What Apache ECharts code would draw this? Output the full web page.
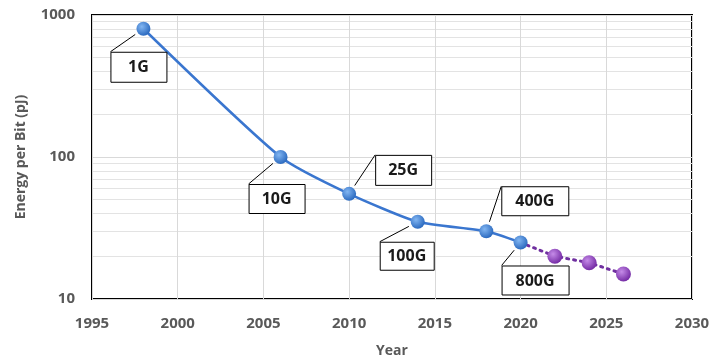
<!DOCTYPE html>
<html>
<head>
<meta charset="utf-8">
<script src="https://cdn.jsdelivr.net/npm/echarts@6/dist/echarts.min.js"></script>
<style>
  html, body { margin: 0; padding: 0; background: #fff; }
  #chart { width: 716px; height: 363px; }
</style>
</head>
<body>
<div id="chart"></div>
<script>
// Ethernet generations: year of introduction and energy per bit (pJ)
const years = [1998, 2006, 2010, 2014, 2018, 2020];
const energy = [800, 100, 55, 35, 30, 25];
const speeds = ['1G', '10G', '25G', '100G', '400G', '800G'];

// Projected trend beyond 2020 (first point shared with the last measured one)
const projYears = [2020, 2022, 2024, 2026];
const projEnergy = [25, 20, 18, 15];

// Axis ranges
const xMin = 1995, xMax = 2030, xStep = 5;
const yMin = 10, yMax = 1000;

// Callout boxes: top-left corner relative to the marker, and box size
const calloutCorner = [[-33, 23], [-32, 27], [26, -39], [-38, 20], [15, -45], [-19, 23]];
const calloutSize = [[56, 30], [56, 29], [56, 30], [54, 28], [67, 29], [67, 29]];

const FONT = '"Open Sans", "DejaVu Sans", sans-serif';

function sphere(light, dark) {
  return {
    type: 'radial', x: 0.38, y: 0.35, r: 0.75,
    colorStops: [{ offset: 0, color: light }, { offset: 1, color: dark }]
  };
}

// Callout: leader line from near the marker to the box corner, then the boxed label
function renderCallout(params, api) {
  const i = params.dataIndex;
  const p = api.coord([api.value(0), api.value(1)]);
  const c = calloutCorner[i];
  const s = calloutSize[i];
  const len = Math.hypot(c[0], c[1]);
  const gap = 10;
  const bx = p[0] + c[0];
  const by = p[1] + c[1];
  return {
    type: 'group',
    children: [
      {
        type: 'line',
        shape: { x1: p[0] + c[0] / len * gap, y1: p[1] + c[1] / len * gap, x2: bx, y2: by },
        style: { stroke: '#000', lineWidth: 1 }
      },
      {
        type: 'rect',
        shape: { x: bx + 0.5, y: by + 0.5, width: s[0], height: s[1] },
        style: { fill: '#fff', stroke: '#000', lineWidth: 1 }
      },
      {
        type: 'text',
        x: bx + s[0] / 2,
        y: by + s[1] / 2 + 1,
        style: {
          text: speeds[i],
          align: 'center',
          verticalAlign: 'middle',
          fontFamily: FONT,
          fontWeight: 'bold',
          fontSize: 16,
          fill: '#1a1a1a'
        }
      }
    ]
  };
}

const chart = echarts.init(document.getElementById('chart'), null, { renderer: 'canvas' });

const axisLabelStyle = {
  margin: 17, fontFamily: FONT, fontWeight: 'bold', fontSize: 15, color: '#595959',
  formatter: (v) => String(v)
};
const axisNameStyle = { fontFamily: FONT, fontWeight: 'bold', fontSize: 14, color: '#595959' };

chart.setOption({
  animation: false,
  backgroundColor: '#ffffff',
  grid: {
    left: 92, right: 24, top: 15, bottom: 63,
    show: true, borderColor: '#000', borderWidth: 2, backgroundColor: 'transparent'
  },
  xAxis: {
    type: 'value',
    min: xMin, max: xMax, interval: xStep,
    name: 'Year',
    nameLocation: 'middle',
    nameGap: 45,
    nameTextStyle: axisNameStyle,
    axisLine: { show: false },
    axisTick: { show: false },
    axisLabel: axisLabelStyle,
    splitLine: { show: true, lineStyle: { color: '#d9d9d9', width: 1 } }
  },
  yAxis: {
    type: 'log',
    logBase: 10,
    min: yMin, max: yMax,
    name: 'Energy per Bit (pJ)',
    nameLocation: 'middle',
    nameGap: 64,
    nameTextStyle: axisNameStyle,
    axisLine: { show: false },
    axisTick: { show: false },
    axisLabel: axisLabelStyle,
    splitLine: { show: true, lineStyle: { color: '#d9d9d9', width: 1 } },
    minorTick: { show: false, splitNumber: 9 },
    minorSplitLine: { show: true, lineStyle: { color: '#e3e3e3', width: 1 } }
  },
  series: [
    {
      name: 'Projection',
      type: 'line',
      z: 2,
      data: projYears.map((y, i) => [y, projEnergy[i]]),
      lineStyle: { color: '#7030a0', width: 3, type: [2, 5], cap: 'round' },
      symbol: 'circle',
      symbolSize: (v, p) => (p.dataIndex === 0 ? 0 : 15),
      itemStyle: { color: sphere('#c58be8', '#6a1f9c') },
      emphasis: { disabled: true }
    },
    {
      name: 'Ethernet',
      type: 'line',
      z: 3,
      smooth: 0.2,
      data: years.map((y, i) => [y, energy[i]]),
      lineStyle: { color: '#3a76cf', width: 2.5 },
      symbol: 'circle',
      symbolSize: 14,
      itemStyle: { color: sphere('#82b6f2', '#1f5fb8') },
      emphasis: { disabled: true }
    },
    {
      name: 'Speeds',
      type: 'custom',
      z: 4,
      clip: false,
      silent: true,
      data: years.map((y, i) => [y, energy[i]]),
      renderItem: renderCallout
    }
  ]
});
</script>
</body>
</html>
